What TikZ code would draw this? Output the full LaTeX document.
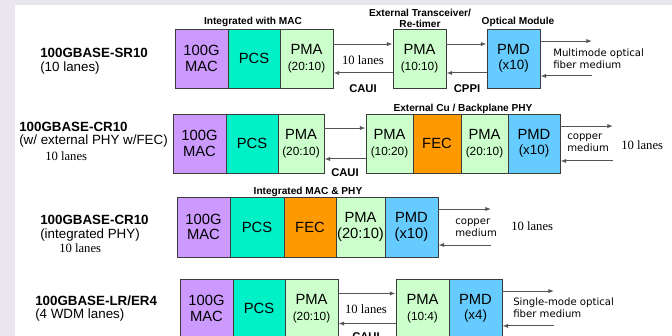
\documentclass[tikz,border=0pt]{standalone}
\usepackage{fontspec}
\setmainfont{Liberation Sans}
\newfontfamily\lanefont{Liberation Serif}
\newfontfamily\mediumfont{DejaVu Sans}
\usetikzlibrary{arrows.meta,positioning,calc}
\definecolor{figmac}{HTML}{CC99FF}
\definecolor{figpcs}{HTML}{00F0C8}
\definecolor{figpma}{HTML}{CCFFCC}
\definecolor{figfec}{HTML}{FF9900}
\definecolor{figpmd}{HTML}{66CCFF}
\definecolor{figedge}{HTML}{3C3C3C}
\definecolor{figline}{HTML}{555555}
\definecolor{figbg}{HTML}{EAE6EE}
\newcommand{\sm}[1]{{\fontsize{8.4}{9}\selectfont #1}}
\tikzset{
  blk/.style={draw=figedge, line width=0.7pt, minimum width=#1*0.025cm,
    minimum height=59*0.025cm, inner sep=0pt, align=center,
    font=\fontsize{10.5}{11}\selectfont},
  mac/.style={blk=#1, fill=figmac},
  pcs/.style={blk=#1, fill=figpcs},
  pma/.style={blk=#1, fill=figpma},
  fec/.style={blk=#1, fill=figfec},
  pmd/.style={blk=#1, fill=figpmd},
  lane/.style={-{Latex[length=4pt,width=3pt]}, draw=figline, line width=0.7pt},
  rowname/.style={anchor=west, inner sep=0pt, font=\fontsize{9.5}{10}\selectfont\bfseries},
  rowsub/.style={anchor=west, inner sep=0pt, font=\fontsize{9.5}{10}\selectfont},
  lanes/.style={inner sep=0pt, font=\lanefont\fontsize{9}{10}\selectfont},
  grp/.style={inner sep=0pt, align=center, font=\fontsize{7.2}{7.8}\selectfont\bfseries},
  bus/.style={inner sep=0pt, font=\fontsize{8}{9}\selectfont\bfseries},
  medium/.style={anchor=west, align=left, inner sep=0pt, font=\mediumfont\fontsize{7.2}{8.6}\selectfont},
}
\begin{document}
\begin{tikzpicture}[x=0.025cm,y=-0.025cm]
\clip (0,0) rectangle (672,336);
\fill[figbg] (0,0) rectangle (672,336);
\fill[white] (15,5) rectangle (672,336);

% 100GBASE-SR10
\node[rowname] (n1) at (40,53) {100GBASE-SR10};
\node[rowsub] (s1) at (40,68) {(10 lanes)};
\node[mac=53] (m1) at (201.5,58.5) {100G\\MAC};
\node[pcs=52] (c1) at (254,58.5) {PCS};
\node[pma=53] (p1) at (306.5,58.5) {PMA\\\sm{(20:10)}};
\node[pma=53] (x1) at (419.5,58.5) {PMA\\\sm{(10:10)}};
\node[pmd=53] (d1) at (513.5,58.5) {PMD\\{\fontsize{9.5}{10}\selectfont(x10)}};
\coordinate (o1) at (592,58.5);
\node[grp] (g1) at (253,22) {Integrated with MAC};
\node[grp] (g2) at (420,18) {External Transceiver/\\Re-timer};
\node[grp] (g3) at (518,22) {Optical Module};
\draw[lane] ([yshift=10.3pt]p1.east) -- ([yshift=10.3pt]x1.west);
\draw[lane] ([yshift=-10.3pt]x1.west) -- ([yshift=-10.3pt]p1.east);
\draw[lane] ([yshift=10.3pt]x1.east) -- ([yshift=10.3pt]d1.west);
\draw[lane] ([yshift=-10.3pt]d1.west) -- ([yshift=-10.3pt]x1.east);
\draw[lane] ([yshift=12.4pt]d1.east) -- ([yshift=12.4pt]o1);
\draw[lane] ([yshift=-12.4pt]o1) -- ([yshift=-12.4pt]d1.east);
\node[lanes] (l1) at (363,60) {10 lanes};
\node[bus] (b1) at (363,89) {CAUI};
\node[bus] (b2) at (467,89) {CPPI};
\node[medium] (t1) at (553,59) {Multimode optical\\fiber medium};

% 100GBASE-CR10, external PHY
\node[rowname] (n2) at (19,127) {100GBASE-CR10};
\node[rowsub] (s2) at (19,141) {(w/ external PHY w/FEC)};
\node[lanes, anchor=west] (s2b) at (45,156) {10 lanes};
\node[mac=53] (m2) at (199.5,143.5) {100G\\MAC};
\node[pcs=52] (c2) at (252,143.5) {PCS};
\node[pma=46] (p2) at (301,143.5) {PMA\\\sm{(20:10)}};
\node[pma=47] (x2) at (389.5,143.5) {PMA\\\sm{(10:20)}};
\node[fec=48] (f2) at (437,143.5) {FEC};
\node[pma=47] (y2) at (484.5,143.5) {PMA\\\sm{(20:10)}};
\node[pmd=52] (d2) at (534,143.5) {PMD\\{\fontsize{9.5}{10}\selectfont(x10)}};
\coordinate (o2) at (613,143.5);
\node[grp] (g4) at (463,109) {External Cu / Backplane PHY};
\draw[lane] ([yshift=11pt]p2.east) -- ([yshift=11pt]x2.west);
\draw[lane] ([yshift=-11pt]x2.west) -- ([yshift=-11pt]p2.east);
\draw[lane] ([yshift=12.4pt]d2.east) -- ([yshift=12.4pt]o2);
\draw[lane] ([yshift=-12.4pt]o2) -- ([yshift=-12.4pt]d2.east);
\node[bus] (b3) at (345,173) {CAUI};
\node[medium] (t2) at (567,143) {copper\\medium};
\node[lanes, anchor=west] (l2) at (621,145) {10 lanes};

% 100GBASE-CR10, integrated PHY
\node[rowname] (n3) at (40,220) {100GBASE-CR10};
\node[rowsub] (s3) at (40,235) {(integrated PHY)};
\node[lanes, anchor=west] (s3b) at (59,248) {10 lanes};
\node[mac=53, minimum height=60*0.025cm] (m3) at (203.5,227) {100G\\MAC};
\node[pcs=54, minimum height=60*0.025cm] (c3) at (257,227) {PCS};
\node[fec=52, minimum height=60*0.025cm] (f3) at (310,227) {FEC};
\node[pma=49, minimum height=60*0.025cm] (p3) at (360.5,227) {PMA\\(20:10)};
\node[pmd=53, minimum height=60*0.025cm] (d3) at (411.5,227) {PMD\\(x10)};
\coordinate (o3) at (491,227);
\node[grp] (g5) at (308,192) {Integrated MAC \& PHY};
\draw[lane] ([yshift=12.8pt]d3.east) -- ([yshift=12.8pt]o3);
\draw[lane] ([yshift=-12.8pt]o3) -- ([yshift=-12.8pt]d3.east);
\node[medium] (t3) at (455,228) {copper\\medium};
\node[lanes, anchor=west] (l3) at (511,226) {10 lanes};

% 100GBASE-LR/ER4
\node[rowname] (n4) at (35,301) {100GBASE-LR/ER4};
\node[rowsub] (s4) at (35,315) {(4 WDM lanes)};
\node[mac=53] (m4) at (206.5,308.5) {100G\\MAC};
\node[pcs=52] (c4) at (259,308.5) {PCS};
\node[pma=53] (p4) at (311.5,308.5) {PMA\\\sm{(20:10)}};
\node[pma=53] (x4) at (422.5,308.5) {PMA\\\sm{(10:4)}};
\node[pmd=53] (d4) at (475.5,308.5) {PMD\\{\fontsize{9.5}{10}\selectfont(x4)}};
\coordinate (o4) at (554,308.5);
\draw[lane] ([yshift=10.7pt]p4.east) -- ([yshift=10.7pt]x4.west);
\draw[lane] ([yshift=-10.7pt]x4.west) -- ([yshift=-10.7pt]p4.east);
\draw[lane] ([yshift=12.4pt]d4.east) -- ([yshift=12.4pt]o4);
\draw[lane] ([yshift=-12.4pt]o4) -- ([yshift=-12.4pt]d4.east);
\node[lanes] (l4) at (366,309) {10 lanes};
\node[bus] (b4) at (366,337) {CAUI};
\node[medium] (t4) at (513,308) {Single-mode optical\\fiber medium};
\end{tikzpicture}
\end{document}
